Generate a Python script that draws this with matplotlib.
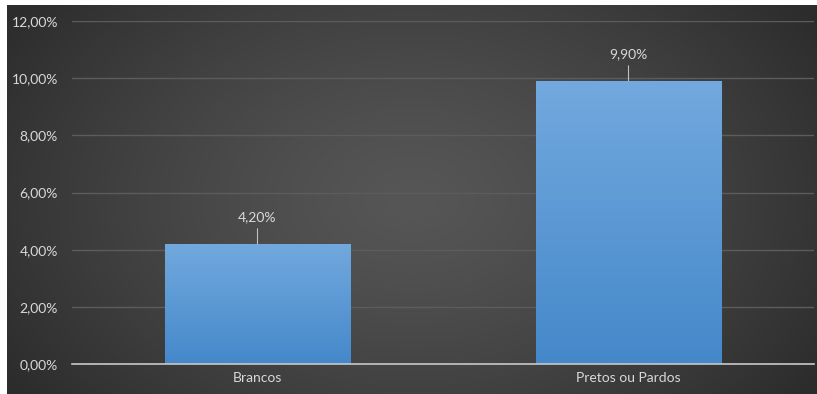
import numpy as np
import matplotlib
matplotlib.use("Agg")
import matplotlib.pyplot as plt

categories = ["Brancos", "Pretos ou Pardos"]
values = [4.20, 9.90]
value_labels = ["4,20%", "9,90%"]
ytick_values = [0, 2, 4, 6, 8, 10, 12]
ytick_labels = ["0,00%", "2,00%", "4,00%", "6,00%", "8,00%", "10,00%", "12,00%"]

plt.rcParams['font.family'] = ['Lato', 'DejaVu Sans']
W, H = 817, 394
fig = plt.figure(figsize=(W / 100, H / 100), dpi=100)
fig.patch.set_facecolor('white')

# background gradient panel (radial-ish)
bg = fig.add_axes([7 / W, 0, (W - 7) / W, (H - 5) / H], zorder=0)
bg.set_axis_off()
xx, yy = np.meshgrid(np.linspace(-1, 1, 400), np.linspace(-1, 1, 200))
r = np.sqrt(xx ** 2 + (yy * 0.7) ** 2)
r = np.clip(r / 1.2, 0, 1)
c_center = np.array([0x56, 0x56, 0x56]) / 255
c_edge = np.array([0x2c, 0x2c, 0x2c]) / 255
img = c_center[None, None, :] * (1 - r[..., None] ** 1.3) + c_edge[None, None, :] * (r[..., None] ** 1.3)
bg.imshow(img, aspect='auto', extent=[0, 1, 0, 1])
bg.set_xlim(0, 1)
bg.set_ylim(0, 1)

ax = fig.add_axes([72 / W, 30 / H, (814 - 72) / W, (373 - 30) / H], zorder=1)
ax.patch.set_alpha(0)
x = np.arange(len(categories))
bars = ax.bar(x, values, width=0.5, color='#5b9bd5', edgecolor='#3a6fa0', linewidth=0.8, zorder=3)

# vertical gradient on bars
grad = np.linspace(0, 1, 100)[:, None]
top = np.array([0x72, 0xa9, 0xde]) / 255
bot = np.array([0x45, 0x88, 0xca]) / 255
gimg = top[None, None, :] * (1 - grad[..., None]) + bot[None, None, :] * grad[..., None]
for b in bars:
    bx, by = b.get_x(), b.get_y()
    bw, bh = b.get_width(), b.get_height()
    im = ax.imshow(gimg, aspect='auto', extent=[bx, bx + bw, by, by + bh], zorder=3.5)
    im.set_clip_path(b)
ax.set_xlim(-0.5, len(categories) - 0.5)
ax.set_ylim(0, 12)

ax.set_yticks(ytick_values)
ax.set_yticklabels(ytick_labels)
ax.set_xticks(x)
ax.set_xticklabels(categories)
ax.tick_params(axis='both', length=0, colors='#d9d9d9', labelsize=10)
ax.tick_params(axis='y', pad=10)
ax.tick_params(axis='x', pad=6)
ax.yaxis.grid(True, color='#5c5c5c', linewidth=1, zorder=0)
ax.set_axisbelow(True)
for s in ['top', 'right', 'left']:
    ax.spines[s].set_visible(False)
ax.spines['bottom'].set_color('#c8c8c8')
ax.spines['bottom'].set_linewidth(1.2)
ax.spines['bottom'].set_zorder(4)

for xi, v, lab in zip(x, values, value_labels):
    ax.annotate(lab, xy=(xi, v), xytext=(0, 19), textcoords='offset points',
                ha='center', va='center', color='#d9d9d9', fontsize=10, zorder=5)
    ax.annotate('', xy=(xi, v), xytext=(0, 11), textcoords='offset points',
                arrowprops=dict(arrowstyle='-', color='#bfbfbf', lw=0.8, shrinkA=0, shrinkB=0), zorder=5)

fig.savefig('out.png', dpi=100, facecolor=fig.get_facecolor())
